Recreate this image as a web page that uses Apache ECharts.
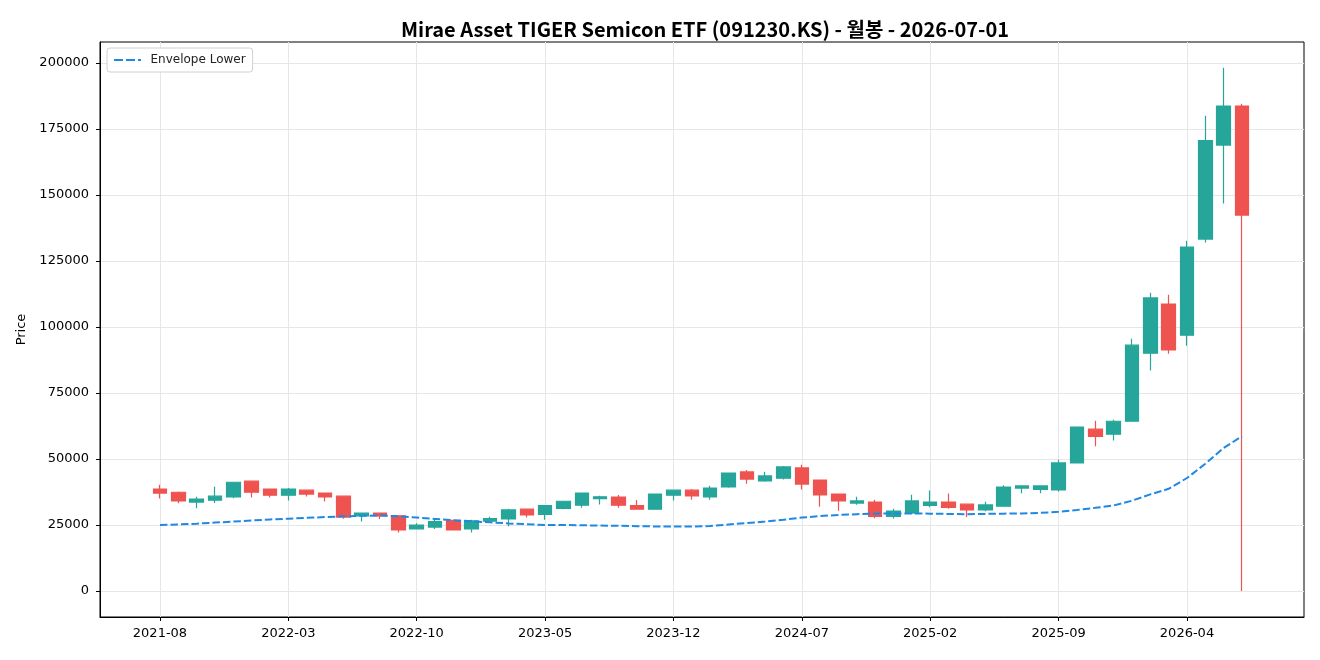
<!DOCTYPE html>
<html>
<head>
<meta charset="utf-8">
<title>TIGER Semicon monthly</title>
<script src="https://cdn.jsdelivr.net/npm/echarts@6/dist/echarts.min.js"></script>
</head>
<body style="margin:0;background:#fff">
<div id="main" style="width:1320px;height:660px"></div>
<script>
// monthly bars, 2021-08 .. 2026-07
var months = [
  '2021-08','2021-09','2021-10','2021-11','2021-12','2022-01','2022-02','2022-03','2022-04','2022-05','2022-06','2022-07',
  '2022-08','2022-09','2022-10','2022-11','2022-12','2023-01','2023-02','2023-03','2023-04','2023-05','2023-06','2023-07',
  '2023-08','2023-09','2023-10','2023-11','2023-12','2024-01','2024-02','2024-03','2024-04','2024-05','2024-06','2024-07',
  '2024-08','2024-09','2024-10','2024-11','2024-12','2025-01','2025-02','2025-03','2025-04','2025-05','2025-06','2025-07',
  '2025-08','2025-09','2025-10','2025-11','2025-12','2026-01','2026-02','2026-03','2026-04','2026-05','2026-06','2026-07'
];
var opens = [
  38600,37400,33700,34400,35600,41600,38600,36300,38200,37100,35900,28400,
  29500,28500,23500,24200,26800,23500,26500,27300,31000,29000,31300,32500,
  35000,35600,32300,31000,36300,38200,35600,39400,45100,41700,42700,46600,
  42000,36700,33300,33700,28300,29500,32400,33700,32900,30700,32100,39000,
  38500,38300,48500,61300,59400,64300,90100,108700,96900,133300,168900,183700
];
var highs = [
  40200,37700,35700,39500,41300,41600,38800,39000,38400,37100,35900,29500,
  29500,28500,25700,27300,27000,27000,28100,31200,31000,32300,34000,37100,
  36100,36400,34500,36700,38200,38600,39900,44900,45800,45200,47300,47800,
  42200,36700,35700,34600,31200,36500,38100,36900,32900,33800,40100,40100,
  40100,49700,62100,64500,64900,95500,113000,112200,132700,180000,198200,184600
];
var lows = [
  35000,33200,31300,33300,35100,35400,35400,34300,35800,33900,27400,26300,
  27300,22200,23500,23500,23000,22200,26300,24500,27800,27000,31000,31500,
  32800,31500,30800,30800,34300,34600,34600,39100,40600,41400,42200,38400,
  31900,30400,32700,27600,27500,29200,31700,31200,28000,30200,31900,37000,
  37000,37700,48300,54800,57000,64300,83500,89900,92900,132000,146800,0
];
var closes = [
  37100,34100,34800,35900,41200,37400,36300,38600,36700,35600,28000,29500,
  28400,23100,25000,26300,23100,26600,27400,30700,28800,32300,34000,37100,
  35700,32500,31000,36700,38200,36000,39000,44700,42400,43600,47000,40500,
  36400,34100,34100,28300,30300,34100,33700,31700,30700,32600,39400,39800,
  39800,48500,62100,58600,64300,93100,111000,91300,130300,170600,183700,142400
];
var envLower = [
  25000,25200,25500,25900,26300,26700,27100,27400,27700,28000,28300,28500,
  28600,28300,27800,27300,26800,26400,26000,25600,25300,25000,25000,24900,
  24800,24700,24550,24450,24400,24450,24600,25200,25700,26300,27000,27800,
  28400,28800,29100,29300,29400,29400,29300,29200,29100,29200,29300,29400,
  29600,30000,30700,31500,32400,34200,36600,38700,42800,48200,54200,58600
];
var xTickIdx = [0, 7, 14, 21, 28, 35, 42, 49, 56];
var yTicks = [0, 25000, 50000, 75000, 100000, 125000, 150000, 175000, 200000];

var candles = [];
var envData = [];
for (var i = 0; i < months.length; i++) {
    candles.push([i, opens[i], closes[i], lows[i], highs[i]]);
    envData.push([i, envLower[i]]);
}

var font = 'DejaVu Sans';
var chart = echarts.init(document.getElementById('main'));
chart.setOption({
    animation: false,
    backgroundColor: '#fff',
    textStyle: { fontFamily: font },
    title: {
        text: 'Mirae Asset TIGER Semicon ETF (091230.KS) - 월봉 - 2026-07-01',
        left: 700,
        textAlign: 'center',
        top: 14,
        textStyle: { fontSize: 20, fontWeight: 'bold', color: '#000', fontFamily: 'Noto Sans CJK KR' }
    },
    legend: {
        left: 107,
        top: 48,
        orient: 'vertical',
        itemWidth: 28,
        itemHeight: 2,
        padding: [6, 7, 6, 7],
        borderColor: '#d0d0d0',
        borderWidth: 1,
        borderRadius: 3,
        backgroundColor: '#fff',
        data: [{
            name: 'Envelope Lower',
            icon: 'path://M0,0h9v2h-9z M12,0h9v2h-9z M24,0h3v2h-3z'
        }],
        textStyle: { fontSize: 12, color: '#222', fontFamily: font, padding: [0, 0, 0, 4] }
    },
    grid: {
        left: 100, right: 16, top: 42, bottom: 43,
        show: true, borderColor: '#000', borderWidth: 1
    },
    xAxis: {
        type: 'value',
        min: -3.27,
        max: 62.38,
        axisLine: { show: true, onZero: false, lineStyle: { color: '#000' } },
        axisTick: { show: true, inside: false, length: 4, customValues: xTickIdx, lineStyle: { color: '#000' } },
        axisLabel: {
            customValues: xTickIdx,
            color: '#000', fontSize: 13, margin: 10,
            formatter: function (v) { return months[Math.round(v)]; }
        },
        splitLine: { show: true, lineStyle: { color: '#e6e6e6' } }
    },
    yAxis: {
        type: 'value',
        min: -9850,
        max: 207950,
        name: 'Price',
        nameLocation: 'middle',
        nameGap: 69,
        nameTextStyle: { color: '#000', fontSize: 13, fontFamily: font },
        axisLine: { show: true, onZero: false, lineStyle: { color: '#000' } },
        axisTick: { show: true, inside: false, length: 4, customValues: yTicks, lineStyle: { color: '#000' } },
        axisLabel: {
            customValues: yTicks, color: '#000', fontSize: 13, margin: 11,
            formatter: function (v) { return String(v); }
        },
        splitLine: { show: true, lineStyle: { color: '#e6e6e6' } }
    },
    series: [
        {
            type: 'candlestick',
            name: 'Price',
            barWidth: 14,
            data: candles,
            itemStyle: {
                color: '#26a69a',
                color0: '#ef5350',
                borderColor: '#26a69a',
                borderColor0: '#ef5350',
                borderWidth: 1.2
            }
        },
        {
            type: 'line',
            name: 'Envelope Lower',
            data: envData,
            showSymbol: false,
            symbol: 'none',
            z: 3,
            lineStyle: { color: '#1e88e5', width: 2, type: [7.5, 3] },
            itemStyle: { color: '#1e88e5' }
        }
    ]
});
</script>
</body>
</html>
